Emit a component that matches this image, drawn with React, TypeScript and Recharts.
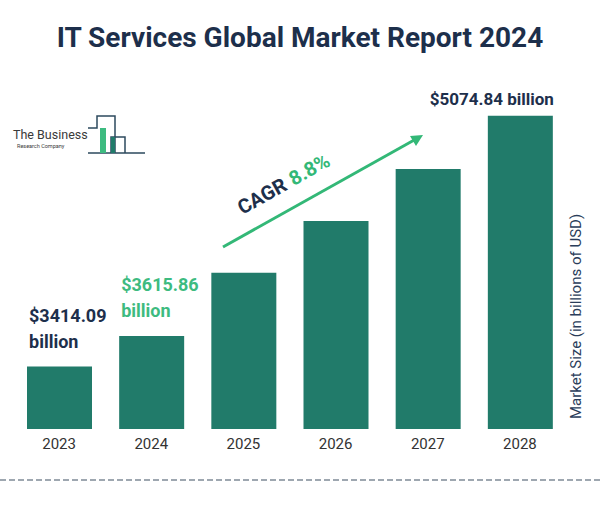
import { BarChart, Bar, XAxis, YAxis, LabelList, Customized } from 'recharts';

const years = ['2023', '2024', '2025', '2026', '2027', '2028'];
const marketSize = [3414.09, 3615.86, 4035, 4379, 4722, 5074.84];
// which bars carry a value label, and how it is written
const labelLines: Record<string, string[]> = {
  '2023': ['$3414.09', 'billion'],
  '2024': ['$3615.86', 'billion'],
  '2028': ['$5074.84 billion'],
};
const labelColors: Record<string, string> = {
  '2023': '#1d2f4b',
  '2024': '#3dbb80',
  '2028': '#1d2f4b',
};
const title = 'IT Services Global Market Report 2024';
const yTitle = 'Market Size (in billions of USD)';
const cagrText = ['CAGR', '8.8%'];

const data = years.map((year, i) => ({ year, value: marketSize[i] }));

const NAVY = '#1d2f4b';
const GREEN = '#33b877';
const BAR = '#217b6a';
const FONT = 'Roboto, sans-serif';

const ValueLabel = (props: any) => {
  const { x, y, width, value } = props;
  const idx = marketSize.indexOf(value);
  const year = years[idx];
  const lines = labelLines[year];
  if (!lines) return null;
  const fill = labelColors[year];
  if (lines.length === 1) {
    return (
      <text x={x + width + 1} y={y - 11} textAnchor="end" fill={fill} fontSize={17} fontWeight={700} fontFamily={FONT}>
        {lines[0]}
      </text>
    );
  }
  return (
    <text x={x + 2} y={y} fill={fill} fontSize={18} fontWeight={700} fontFamily={FONT}>
      <tspan x={x + 2} y={y - 45}>{lines[0]}</tspan>
      <tspan x={x + 2} y={y - 19}>{lines[1]}</tspan>
    </text>
  );
};

const Decorations = () => (
  <g>
    <text x={300} y={47} textAnchor="middle" fill={NAVY} fontSize={28} fontWeight={700} fontFamily={FONT}>
      {title}
    </text>

    {/* logo */}
    <text x={13} y={139} fill="#3a3a3a" fontSize={12.5} fontFamily={FONT}>The Business</text>
    <text x={17} y={148} fill="#3a3a3a" fontSize={5.5} fontFamily={FONT}>Research Company</text>
    <path d="M88 128 H97 V116 H115 V153 M111 153 V137 H125 V153 M88 153 H145" fill="none" stroke="#2d4a5e" strokeWidth={1.5} />
    <rect x={100} y={128} width={6} height={25} fill="#3dbb80" />
    <rect x={111} y={137} width={4} height={16} fill="#217b6a" />

    {/* CAGR arrow */}
    <line x1={223} y1={247} x2={416} y2={139} stroke={GREEN} strokeWidth={3} />
    <polygon points="423,135 410,136 416,146" fill={GREEN} />
    <text transform="translate(287,190) rotate(-29.4)" textAnchor="middle" fontSize={20} fontWeight={700} fontFamily={FONT}>
      <tspan fill={NAVY}>{cagrText[0]}</tspan>
      <tspan fill={GREEN} dx={6}>{cagrText[1]}</tspan>
    </text>

    <line x1={0} y1={480} x2={600} y2={480} stroke="#7f8b97" strokeWidth={1.5} strokeDasharray="6 3" />
  </g>
);

const YTitle = (props: any) => {
  const vb = props.viewBox;
  const cx = vb.x + vb.width / 2 - 7;
  const cy = vb.y + vb.height / 2 + 52;
  return (
    <text transform={`translate(${cx},${cy}) rotate(-90)`} textAnchor="middle" dominantBaseline="central" fill="#2a3d5a" fontSize={15} fontFamily={FONT}>
      {yTitle}
    </text>
  );
};

export default function App() {
  return (
    <div style={{ position: 'absolute', left: 0, top: 0, background: '#fff' }}>
      <BarChart width={600} height={507} data={data} margin={{ top: 100, right: 0, bottom: 48, left: 13 }}>
        <XAxis
          dataKey="year"
          height={30}
          axisLine={false}
          tickLine={false}
          tickMargin={3}
          tick={{ fontSize: 15, fill: '#333', fontFamily: FONT }}
        />
        <YAxis
          orientation="right"
          width={34}
          domain={[3000, 5180]}
          allowDataOverflow
          tick={false}
          axisLine={false}
          tickLine={false}
          label={{ content: YTitle }}
        />
        <Bar dataKey="value" fill={BAR} barSize={65} isAnimationActive={false}>
          <LabelList dataKey="value" content={ValueLabel} />
        </Bar>
        <Customized component={Decorations} />
      </BarChart>
    </div>
  );
}
